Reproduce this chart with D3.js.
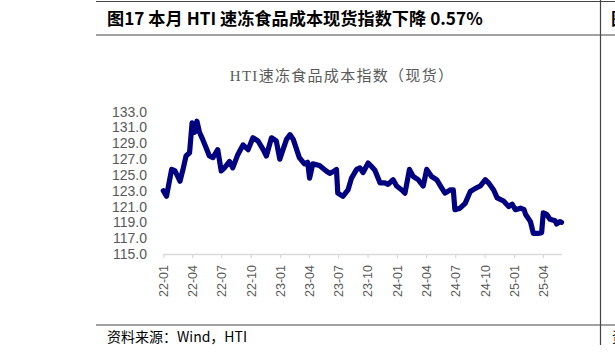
<!DOCTYPE html>
<html><head><meta charset="utf-8">
<script src="https://cdn.jsdelivr.net/npm/d3@7"></script>
<style>
html,body{margin:0;padding:0;background:#fff;}
svg{display:block;}
</style></head>
<body>
<svg id="c" width="615" height="355"></svg>
<script>
const figureTitle = "图17 本月 HTI 速冻食品成本现货指数下降 0.57%";
const chartTitle = "HTI速冻食品成本指数（现货）";
const sourceNote = "资料来源：Wind，HTI";
const yTicks = [115,117,119,121,123,125,127,129,131,133];
const xTickLabels = ["22-01","22-04","22-07","22-10","23-01","23-04","23-07","23-10","24-01","24-04","24-07","24-10","25-01","25-04"];
const dates = ["2022-01-01","2022-01-11","2022-01-27","2022-02-07","2022-02-22","2022-03-03","2022-03-13","2022-03-24","2022-04-01","2022-04-09","2022-04-16","2022-04-24","2022-05-04","2022-05-15","2022-05-25","2022-06-05","2022-06-20","2022-07-01","2022-07-11","2022-07-27","2022-08-06","2022-08-22","2022-09-07","2022-09-23","2022-10-08","2022-10-24","2022-11-09","2022-11-19","2022-12-05","2022-12-20","2022-12-31","2023-01-10","2023-01-21","2023-02-01","2023-02-11","2023-03-02","2023-03-18","2023-03-28","2023-04-03","2023-04-13","2023-05-04","2023-05-25","2023-06-05","2023-06-15","2023-06-26","2023-06-30","2023-07-16","2023-08-01","2023-08-12","2023-08-28","2023-09-07","2023-09-17","2023-10-03","2023-10-13","2023-10-24","2023-11-09","2023-11-24","2023-12-04","2023-12-20","2023-12-31","2024-01-16","2024-01-26","2024-02-09","2024-02-21","2024-03-07","2024-03-23","2024-04-03","2024-04-18","2024-05-04","2024-05-19","2024-05-30","2024-06-15","2024-06-25","2024-06-30","2024-07-16","2024-08-01","2024-08-17","2024-09-02","2024-09-17","2024-10-03","2024-10-13","2024-10-29","2024-11-09","2024-11-29","2024-12-15","2024-12-26","2025-01-05","2025-01-21","2025-02-01","2025-02-06","2025-02-21","2025-03-02","2025-03-17","2025-03-28","2025-04-02","2025-04-13","2025-04-23","2025-05-09","2025-05-14","2025-05-24","2025-05-29"];
const values = [123.0,122.3,125.7,125.5,124.2,125.6,127.4,127.8,131.6,130.4,131.8,130.4,129.5,128.4,127.4,127.2,128.2,125.5,125.9,126.7,125.9,127.6,128.8,128.2,129.7,129.3,128.2,127.4,129.7,129.3,127.0,128.2,129.5,130.1,129.5,127.2,126.4,126.6,124.6,126.4,126.2,125.5,125.2,125.4,125.7,122.7,122.3,123.1,124.6,125.7,125.9,125.3,126.5,126.1,125.6,124.0,124.0,123.8,124.4,123.6,123.1,122.7,125.7,124.8,124.4,123.6,125.7,124.8,124.4,123.4,122.7,123.1,123.1,120.6,120.8,121.4,122.9,123.3,123.6,124.4,124.0,123.1,122.1,121.7,121.0,121.3,120.6,120.8,120.6,120.0,119.1,117.6,117.6,117.7,120.2,120.0,119.4,119.2,118.8,119.1,119.0];

const parse = d3.timeParse("%Y-%m-%d");
const data = dates.map((d,i)=>({date:parse(d), value:values[i]}));
const tickDates = xTickLabels.map(s=>parse("20"+s+"-01"));

const svg = d3.select("#c");
const ink = "#595959";

// frame lines
svg.append("line").attr("x1",96).attr("x2",615).attr("y1",1.5).attr("y2",1.5).attr("stroke","#444").attr("stroke-width",1.2);
svg.append("line").attr("x1",96).attr("x2",615).attr("y1",35).attr("y2",35).attr("stroke","#444").attr("stroke-width",1.2);
svg.append("line").attr("x1",96).attr("x2",615).attr("y1",325).attr("y2",325).attr("stroke","#444").attr("stroke-width",1.2);
svg.append("line").attr("x1",600.5).attr("x2",600.5).attr("y1",0).attr("y2",345).attr("stroke","#444").attr("stroke-width",1.2);

svg.append("text").attr("x",107).attr("y",25).attr("font-family","'Noto Sans CJK SC',sans-serif").attr("font-weight","bold").attr("font-size",17.2).attr("fill","#000").text(figureTitle);
svg.append("text").attr("x",611).attr("y",25).attr("font-family","'Noto Sans CJK SC',sans-serif").attr("font-weight","bold").attr("font-size",17.2).attr("fill","#000").text("图18");

svg.append("text").attr("x",342).attr("y",81).attr("text-anchor","middle").attr("font-family","'Liberation Serif','Noto Sans CJK SC',serif").attr("font-size",15).attr("letter-spacing",1.3).attr("fill",ink).text(chartTitle);

svg.append("text").attr("x",107).attr("y",342).attr("font-family","'Noto Sans CJK SC',sans-serif").attr("font-size",14).attr("fill","#000").text(sourceNote);
svg.append("text").attr("x",612).attr("y",342).attr("font-family","'Noto Sans CJK SC',sans-serif").attr("font-size",14).attr("fill","#000").text("资");

const x = d3.scaleTime().domain([parse("2022-01-01"), parse("2025-05-29")]).range([163.3, 561.5]);
const y = d3.scaleLinear().domain([115,133]).range([254, 111.7]);

// x axis
const xAxis = d3.axisBottom(x).tickValues(tickDates).tickFormat((d,i)=>xTickLabels[i]).tickSize(4).tickSizeOuter(0);
const gx = svg.append("g").attr("transform","translate(0,254)").call(xAxis);
gx.select(".domain").attr("stroke","#d9d9d9").attr("stroke-width",1.5);
gx.selectAll(".tick line").attr("stroke","#d9d9d9").attr("stroke-width",1.2);
gx.selectAll(".tick text").attr("font-family","'Liberation Sans',Arial,sans-serif").attr("font-size",12.5).attr("fill",ink)
  .attr("transform","rotate(-90)").attr("text-anchor","end").attr("x",-11).attr("y",0).attr("dy","0.35em");

// y axis
const yAxis = d3.axisLeft(y).tickValues(yTicks).tickFormat(d3.format(".1f")).tickSize(0);
const gy = svg.append("g").attr("transform","translate(151,0)").call(yAxis);
gy.select(".domain").remove();
gy.selectAll(".tick text").attr("font-family","'Liberation Sans',Arial,sans-serif").attr("font-size",14).attr("fill",ink).attr("x",-4);

const line = d3.line().x(d=>x(d.date)).y(d=>y(d.value));
svg.append("path").datum(data).attr("d",line).attr("fill","none").attr("stroke","#000080").attr("stroke-width",5.2).attr("stroke-linejoin","round").attr("stroke-linecap","round");
</script>
</body></html>
